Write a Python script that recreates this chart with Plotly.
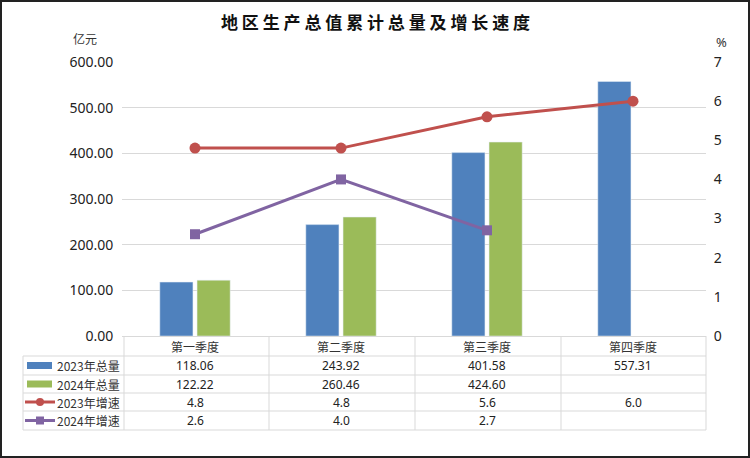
import plotly.graph_objects as go

categories = ["第一季度", "第二季度", "第三季度", "第四季度"]
total_2023 = [118.06, 243.92, 401.58, 557.31]
total_2024 = [122.22, 260.46, 424.60, None]
growth_2023 = [4.8, 4.8, 5.6, 6.0]
growth_2024 = [2.6, 4.0, 2.7, None]
series_names = ["2023年总量", "2024年总量", "2023年增速", "2024年增速"]

W, H = 750, 458
L, R, T, B = 122, 706, 62, 336  # plot area in pixels

BLUE = "#4f81bd"
GREEN = "#9bbb59"
RED = "#c0504d"
PURPLE = "#8064a2"
GRID = "#d9d9d9"
FONT = "Noto Sans CJK SC"


def px(x):
    return (x - L) / (R - L)


def py(y):
    return (B - y) / (B - T)


def label(text, x, y, size=12, family=FONT, color="#333", xanchor="center", xref="paper"):
    fig.add_annotation(text=text, xref=xref, yref="paper", x=x, y=y,
                       xanchor=xanchor, yanchor="middle", showarrow=False,
                       font=dict(family=family, size=size, color=color))


fig = go.Figure()
fig.add_trace(go.Bar(x=categories, y=total_2023, name=series_names[0],
                     marker_color=BLUE))
fig.add_trace(go.Bar(x=categories, y=total_2024, name=series_names[1],
                     marker_color=GREEN))
fig.add_trace(go.Scatter(x=categories, y=growth_2023, name=series_names[2],
                         yaxis="y2", mode="lines+markers",
                         line=dict(color=RED, width=3),
                         marker=dict(symbol="circle", size=11, color=RED)))
fig.add_trace(go.Scatter(x=categories, y=growth_2024, name=series_names[3],
                         yaxis="y2", mode="lines+markers",
                         line=dict(color=PURPLE, width=3),
                         marker=dict(symbol="square", size=10, color=PURPLE)))

fig.update_layout(
    width=W, height=H,
    margin=dict(l=L, r=W - R, t=T, b=H - B, autoexpand=False),
    paper_bgcolor="white", plot_bgcolor="white",
    showlegend=False,
    barmode="group", bargap=0.49, bargroupgap=0.11,
    font=dict(family=FONT, size=13, color="#222"),
    xaxis=dict(showticklabels=False, ticks="", showline=True,
               linecolor=GRID, linewidth=1, showgrid=False),
    yaxis=dict(range=[0, 600], dtick=100, tickformat=".2f",
               showgrid=True, gridcolor=GRID, gridwidth=1, zeroline=False,
               tickfont=dict(family="Noto Sans", size=14, color="#222"),
               ticks="outside", ticklen=5, tickcolor="white"),
    yaxis2=dict(range=[0, 7], dtick=1, overlaying="y", side="right",
                showgrid=False, zeroline=False,
                tickfont=dict(family="Noto Sans", size=14, color="#222"),
                ticks="outside", ticklen=4, tickcolor="white"),
)

# title and axis units
label("<b>" + " ".join("地区生产总值累计总量及增长速度") + "</b>", px(375), py(22),
      size=17, color="#111")
label("亿元", px(85), py(38))
label("%", px(721), py(42), size=13, family="Noto Sans")

# data table below the plot
row_edges = [336, 356, 375, 393, 411, 430]
col_edges = [124, 269, 415, 561, 706]
left_edge = 23

for y in row_edges[1:]:
    fig.add_shape(type="line", xref="paper", yref="paper",
                  x0=px(left_edge), x1=px(R), y0=py(y), y1=py(y),
                  line=dict(color=GRID, width=1))
for x in col_edges:
    fig.add_shape(type="line", xref="paper", yref="paper",
                  x0=px(x), x1=px(x), y0=py(336), y1=py(430),
                  line=dict(color=GRID, width=1))
fig.add_shape(type="line", xref="paper", yref="paper",
              x0=px(left_edge), x1=px(left_edge), y0=py(356), y1=py(430),
              line=dict(color=GRID, width=1))

header_y = (row_edges[0] + row_edges[1]) / 2
for cat in categories:
    label(cat, cat, py(header_y), xref="x")

rows = [total_2023, total_2024, growth_2023, growth_2024]
formats = ["{:.2f}", "{:.2f}", "{:.1f}", "{:.1f}"]
colors = [BLUE, GREEN, RED, PURPLE]
for i, (vals, fmt) in enumerate(zip(rows, formats)):
    yc = (row_edges[i + 1] + row_edges[i + 2]) / 2
    for cat, v in zip(categories, vals):
        if v is None:
            continue
        label(fmt.format(v), cat, py(yc), family="Noto Sans", color="#222", xref="x")
    label(series_names[i], px(122), py(yc), xanchor="right")
    if i < 2:
        fig.add_shape(type="rect", xref="paper", yref="paper",
                      x0=px(27), x1=px(52), y0=py(yc - 3.5), y1=py(yc + 3.5),
                      fillcolor=colors[i], line=dict(width=0))
    else:
        fig.add_shape(type="line", xref="paper", yref="paper",
                      x0=px(25), x1=px(55), y0=py(yc), y1=py(yc),
                      line=dict(color=colors[i], width=3))
        fig.add_shape(type="circle" if i == 2 else "rect", xref="paper", yref="paper",
                      x0=px(36), x1=px(44), y0=py(yc - 4), y1=py(yc + 4),
                      fillcolor=colors[i], line=dict(width=0))

# outer frame
fig.add_shape(type="rect", xref="paper", yref="paper",
              x0=px(1), x1=px(749), y0=py(1), y1=py(457),
              line=dict(color="#222", width=2), fillcolor="rgba(0,0,0,0)")

# drop the default page margin so the figure fills the window exactly
fig.write_html("out.html", config={"displayModeBar": False},
               post_script="document.body.style.margin='0';")
